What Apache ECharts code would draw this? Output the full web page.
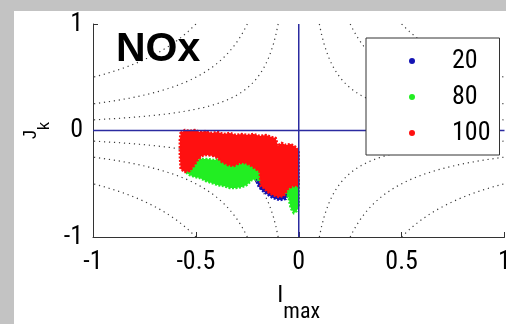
<!DOCTYPE html>
<html>
<head>
<meta charset="utf-8">
<script src="https://cdn.jsdelivr.net/npm/echarts@6/dist/echarts.min.js"></script>
<style>
  html, body { margin: 0; padding: 0; background: #c3c3c3; }
  #chart { width: 506px; height: 324px; }
</style>
</head>
<body>
<div id="chart"></div>
<script>
// Load categories shown in the legend
const loadNames = ['20', '80', '100'];

// Axis ticks
const xTicks = [-1, -0.5, 0, 0.5, 1];
const yTicks = [-1, 0, 1];

// Levels of the |Imax * Jk| = c guide curves
const contourLevels = [0.1, 0.25, 0.5];

// Outline of each operating-point cloud, [Imax, Jk]
const cloud20 = [
  [-0.248, -0.305], [-0.209, -0.333], [-0.180, -0.390], [-0.044, -0.502],
  [-0.049, -0.577], [-0.063, -0.643], [-0.092, -0.653], [-0.126, -0.634],
  [-0.156, -0.596], [-0.180, -0.559], [-0.194, -0.530], [-0.228, -0.371]
];
const cloud80 = [
  [-0.549, -0.380], [-0.520, -0.305], [-0.481, -0.268], [-0.447, -0.268],
  [-0.413, -0.277], [-0.374, -0.268], [-0.287, -0.258], [-0.238, -0.315],
  [-0.209, -0.343], [-0.180, -0.418], [-0.117, -0.484], [-0.053, -0.465],
  [0, -0.465], [0, -0.700], [-0.010, -0.756], [-0.024, -0.775],
  [-0.039, -0.728], [-0.049, -0.634], [-0.063, -0.577], [-0.180, -0.493],
  [-0.204, -0.455], [-0.228, -0.465], [-0.253, -0.512], [-0.277, -0.531],
  [-0.306, -0.540], [-0.335, -0.540], [-0.365, -0.521], [-0.394, -0.512],
  [-0.423, -0.493], [-0.452, -0.474], [-0.481, -0.446], [-0.505, -0.437],
  [-0.530, -0.418], [-0.544, -0.399]
];
const cloud100 = [
  [-0.574, -0.023], [-0.554, 0.005], [-0.530, -0.005], [-0.505, 0.005],
  [-0.481, -0.014], [-0.452, -0.005], [-0.423, -0.023], [-0.394, -0.014],
  [-0.365, -0.033], [-0.335, -0.023], [-0.306, -0.042], [-0.277, -0.033],
  [-0.248, -0.042], [-0.219, -0.033], [-0.190, -0.052], [-0.160, -0.042],
  [-0.131, -0.061], [-0.112, -0.070], [-0.102, -0.146], [-0.083, -0.117],
  [-0.063, -0.136], [-0.039, -0.127], [-0.015, -0.155], [-0.005, -0.174],
  [0, -0.192], [0, -0.521],
  [-0.029, -0.521], [-0.053, -0.549], [-0.073, -0.615], [-0.097, -0.624],
  [-0.126, -0.606], [-0.151, -0.577], [-0.170, -0.540], [-0.185, -0.521],
  [-0.190, -0.390], [-0.209, -0.362], [-0.238, -0.324], [-0.262, -0.305],
  [-0.287, -0.305], [-0.316, -0.333], [-0.345, -0.324], [-0.374, -0.296],
  [-0.394, -0.258], [-0.418, -0.239], [-0.447, -0.230], [-0.471, -0.239],
  [-0.491, -0.277], [-0.510, -0.333], [-0.530, -0.380], [-0.554, -0.390],
  [-0.574, -0.362], [-0.578, -0.230], [-0.578, -0.089]
];

const clouds = [cloud20, cloud80, cloud100];
const cloudColors = ['#1414b4', '#22ee22', '#ff1010'];

// Condensed sans for ticks, legend and the x name
const narrow = { fontFamily: 'Roboto, "Liberation Sans", sans-serif', fontStyle: 'condensed' };

// Hyperbolic guide curves |x*y| = c in every quadrant
function hyperbola(c, sx, sy) {
  const pts = [];
  const n = 80;
  for (let i = 0; i <= n; i++) {
    const ax = c + (1 - c) * i / n;
    pts.push([sx * ax, sy * c / ax]);
  }
  return pts;
}

const series = [];
contourLevels.forEach(c => {
  [[1, 1], [-1, 1], [1, -1], [-1, -1]].forEach(([sx, sy]) => {
    series.push({
      type: 'line',
      name: 'level ' + c,
      data: hyperbola(c, sx, sy),
      showSymbol: false,
      silent: true,
      z: 1,
      lineStyle: { color: '#3a3a3a', width: 1.2, type: [1.2, 3.8] }
    });
  });
});

loadNames.forEach((name, k) => {
  const pts = clouds[k];
  const color = cloudColors[k];
  series.push({
    type: 'custom',
    name: name,
    coordinateSystem: 'cartesian2d',
    data: pts,
    encode: { x: 0, y: 1 },
    itemStyle: { color: color },
    silent: true,
    z: 2,
    renderItem: function (params, api) {
      if (params.dataIndex !== 0) return null;
      return {
        type: 'polygon',
        shape: { points: pts.map(p => api.coord(p)) },
        style: { fill: color, stroke: color, lineWidth: 2.5, lineDash: [2, 1.5] }
      };
    }
  });
});

// Zero lines
const zeroStyle = { color: '#2b2ba0', width: 1.5 };
series.push({
  type: 'line', name: 'zero Imax', data: [[0, -1], [0, 1]],
  showSymbol: false, silent: true, z: 3, lineStyle: zeroStyle
});
series.push({
  type: 'line', name: 'zero Jk', data: [[-1, 0], [1, 0]],
  showSymbol: false, silent: true, z: 3, lineStyle: zeroStyle
});

const chart = echarts.init(document.getElementById('chart'), null, { renderer: 'canvas' });
chart.setOption({
  animation: false,
  backgroundColor: '#c3c3c3',
  graphic: [{
    type: 'rect', z: -10, silent: true,
    shape: { x: 14, y: 11, width: 492, height: 313 },
    style: { fill: '#ffffff' }
  }],
  title: {
    text: 'NOx', left: 116, top: 29, padding: 0,
    textStyle: { fontFamily: '"Liberation Sans", Arial, sans-serif', fontWeight: 'bold', fontSize: 41, color: '#000' }
  },
  legend: {
    orient: 'vertical', left: 366, top: 38,
    padding: [10, 9, 9, 43],
    itemWidth: 70, itemHeight: 6, itemGap: 10,
    icon: 'circle',
    backgroundColor: '#ffffff', borderColor: '#333', borderWidth: 1,
    textStyle: Object.assign({ fontSize: 26, color: '#000' }, narrow),
    data: loadNames,
    selectedMode: false
  },
  grid: { left: 93, right: 1.5, top: 24, bottom: 87, containLabel: false, outerBoundsMode: 'none' },
  xAxis: {
    type: 'value', min: xTicks[0], max: xTicks[xTicks.length - 1], interval: 0.5,
    name: '{a|I}{b|max}', nameLocation: 'middle', nameGap: 47,
    nameTextStyle: {
      color: '#000',
      rich: {
        a: Object.assign({ fontSize: 24, color: '#000', padding: [0, 0, 16, 0] }, narrow),
        b: Object.assign({ fontSize: 22, color: '#000', padding: [16, 0, 0, 0] }, narrow)
      }
    },
    axisLine: { show: true, onZero: false, lineStyle: { color: '#333', width: 1 } },
    axisTick: { show: true, inside: true, length: 5, lineStyle: { color: '#333' } },
    splitLine: { show: false },
    axisLabel: Object.assign({ fontSize: 26, color: '#000', margin: 12 }, narrow)
  },
  yAxis: {
    type: 'value', min: yTicks[0], max: yTicks[yTicks.length - 1], interval: 1,
    name: '{a|J}{b|k}', nameLocation: 'middle', nameGap: 34, nameRotate: 90,
    nameTextStyle: {
      color: '#000',
      rich: {
        a: { fontFamily: '"Liberation Sans", sans-serif', fontSize: 18, color: '#000', padding: [0, 0, 14, 0] },
        b: { fontFamily: '"Liberation Sans", sans-serif', fontSize: 16, color: '#000', padding: [14, 0, 0, 0] }
      }
    },
    axisLine: { show: true, onZero: false, lineStyle: { color: '#333', width: 1 } },
    axisTick: { show: true, inside: true, length: 5, lineStyle: { color: '#333' } },
    splitLine: { show: false },
    axisLabel: Object.assign({ fontSize: 26, color: '#000', margin: 10 }, narrow)
  },
  series: series
});
</script>
</body>
</html>
